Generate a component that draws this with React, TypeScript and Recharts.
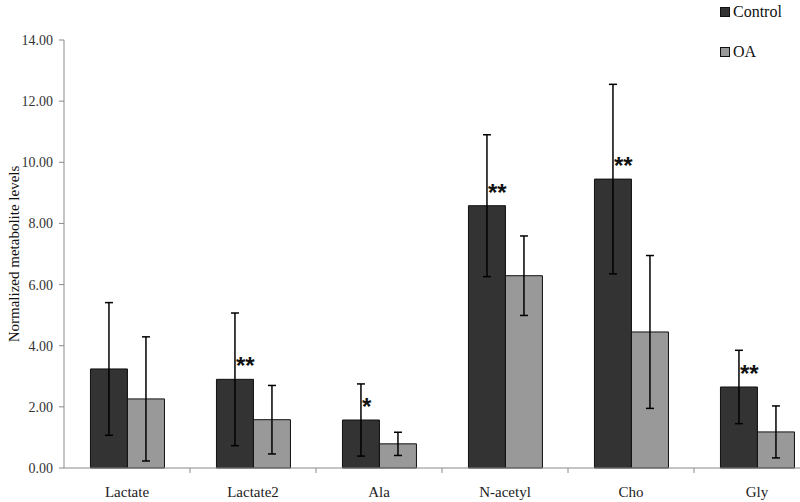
import { BarChart, Bar, XAxis, YAxis, ErrorBar, LabelList } from "recharts";

const categories = ["Lactate", "Lactate2", "Ala", "N-acetyl", "Cho", "Gly"];
const controlValues = [3.24, 2.9, 1.57, 8.58, 9.45, 2.65];
const controlErrors = [2.17, 2.17, 1.18, 2.32, 3.1, 1.2];
const oaValues = [2.26, 1.58, 0.79, 6.29, 4.45, 1.18];
const oaErrors = [2.03, 1.12, 0.38, 1.3, 2.5, 0.85];
const significance = ["", "**", "*", "**", "**", "**"];
const yTicks = [0, 2, 4, 6, 8, 10, 12, 14];

const data = categories.map((name, i) => ({
  name,
  control: controlValues[i],
  controlErr: controlErrors[i],
  oa: oaValues[i],
  oaErr: oaErrors[i],
  sig: significance[i],
}));

const CHART_W = 830;
const CHART_H = 502;
const MARGIN = { top: 40, right: 10, bottom: 4, left: 0 };
const Y_W = 64;
const HALF_BAND = (CHART_W - MARGIN.right - MARGIN.left - Y_W) / categories.length / 2;
const SERIF = "'Liberation Serif', 'Times New Roman', serif";
const AXIS_GRAY = "#8a8a8a";

function XTick(props: any) {
  const { x, y, payload } = props;
  return (
    <g>
      <line x1={x + HALF_BAND} x2={x + HALF_BAND} y1={y} y2={y + 5} stroke={AXIS_GRAY} />
      <text x={x} y={y + 29} textAnchor="middle" fontFamily={SERIF} fontSize={15} fill="#222">
        {payload.value}
      </text>
    </g>
  );
}

function YLabel(props: any) {
  const { viewBox } = props;
  const cy = viewBox.y + viewBox.height / 2;
  return (
    <text
      x={19}
      y={cy}
      transform={`rotate(-90 19 ${cy})`}
      textAnchor="middle"
      fontFamily={SERIF}
      fontSize={15}
      fill="#111"
    >
      Normalized metabolite levels
    </text>
  );
}

function StarLabel(props: any) {
  const { x, y, width, value } = props;
  if (!value) return null;
  return (
    <text
      x={x + width / 2 + 1}
      y={y - 5}
      textAnchor="start"
      fontFamily="'Liberation Sans', Arial, sans-serif"
      fontWeight="bold"
      fontSize={24}
      fill="#111"
    >
      {value}
    </text>
  );
}

const legendItems = [
  { label: "Control", color: "#333333", top: 3 },
  { label: "OA", color: "#999999", top: 43 },
];

export default function App() {
  return (
    <div
      style={{
        position: "absolute",
        left: 0,
        top: 0,
        width: 800,
        height: 502,
        overflow: "hidden",
        background: "#fff",
      }}
    >
      <BarChart
        width={CHART_W}
        height={CHART_H}
        data={data}
        margin={MARGIN}
        barCategoryGap="21%"
        barGap={0}
      >
        <XAxis
          dataKey="name"
          height={30}
          tickSize={0}
          tickMargin={0}
          tickLine={false}
          axisLine={{ stroke: AXIS_GRAY }}
          tick={<XTick />}
          interval={0}
        />
        <YAxis
          width={Y_W}
          domain={[0, 14]}
          ticks={yTicks}
          interval={0}
          tickFormatter={(v: number) => v.toFixed(2)}
          tick={{ fontFamily: SERIF, fontSize: 14, fill: "#333" }}
          tickSize={5}
          tickMargin={6}
          stroke={AXIS_GRAY}
          label={<YLabel />}
        />
        <Bar dataKey="control" name="Control" fill="#333333" stroke="#111" strokeWidth={1} isAnimationActive={false}>
          <ErrorBar dataKey="controlErr" width={4} stroke="#000" strokeWidth={1.5} direction="y" />
          <LabelList dataKey="sig" content={<StarLabel />} />
        </Bar>
        <Bar dataKey="oa" name="OA" fill="#999999" stroke="#111" strokeWidth={1} isAnimationActive={false}>
          <ErrorBar dataKey="oaErr" width={4} stroke="#000" strokeWidth={1.5} direction="y" />
        </Bar>
      </BarChart>
      {legendItems.map((it) => (
        <div
          key={it.label}
          style={{
            position: "absolute",
            left: 720,
            top: it.top,
            display: "flex",
            alignItems: "center",
            fontFamily: SERIF,
            fontSize: 16,
            color: "#111",
            lineHeight: "18px",
          }}
        >
          <span
            style={{
              display: "inline-block",
              width: 8,
              height: 8,
              background: it.color,
              border: "1px solid #111",
              marginRight: 3,
            }}
          />
          {it.label}
        </div>
      ))}
    </div>
  );
}
